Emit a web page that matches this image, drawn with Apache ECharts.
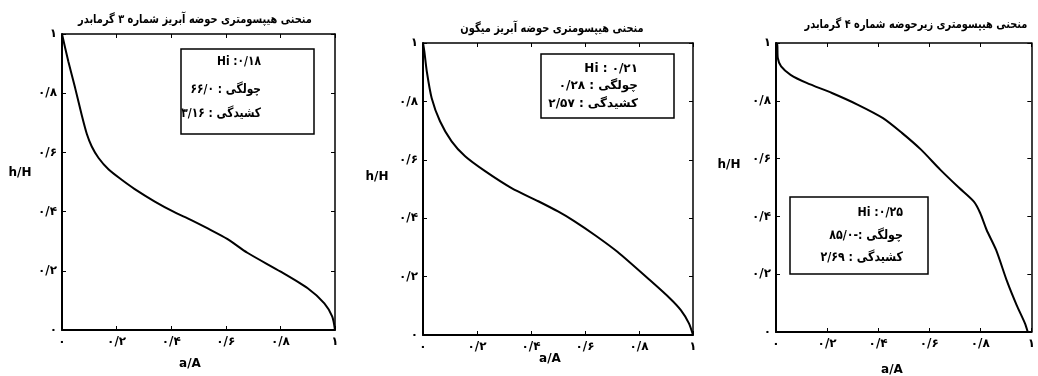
<!DOCTYPE html>
<html><head><meta charset="utf-8">
<script src="https://cdn.jsdelivr.net/npm/echarts@6/dist/echarts.min.js"></script>
<style>html,body{margin:0;padding:0;background:#fff}#c{width:1038px;height:376px}</style>
</head><body><div id="c"></div>
<script>
// ---- data ----
const tickLabels = ['۰', '۰/۲', '۰/۴', '۰/۶', '۰/۸', '۱'];
const titles = [
  'منحنی هیپسومتری حوضه آبریز شماره ۳ گرمابدر',
  'منحنی هیپسومتری حوضه آبریز میگون',
  'منحنی هیپسومتری زیرحوضه شماره ۴ گرمابدر'
];
const stats1 = ['Hi :۰/۱۸', '۶۶/۰ : چولگی', '۳/۱۶ : کشیدگی'];
const stats2 = ['Hi : ۰/۲۱', '۰/۲۸ : چولگی', '۲/۵۷ : کشیدگی'];
const stats3 = ['Hi :۰/۲۵', '۸۵/۰-: چولگی', '۲/۶۹ : کشیدگی'];
const yName = 'h/H';
const xName = 'a/A';

const p1X = [0, 0.023, 0.048, 0.072, 0.091, 0.109, 0.134, 0.170, 0.215, 0.265, 0.340, 0.410, 0.470, 0.532, 0.605, 0.679, 0.801, 0.900, 0.961, 0.990, 1];
const p1Y = [1, 0.908, 0.818, 0.727, 0.662, 0.620, 0.581, 0.543, 0.510, 0.477, 0.434, 0.399, 0.373, 0.344, 0.308, 0.261, 0.197, 0.141, 0.090, 0.045, 0];

const p2X = [0, 0.005, 0.014, 0.032, 0.063, 0.106, 0.156, 0.230, 0.328, 0.427, 0.500, 0.560, 0.640, 0.720, 0.840, 0.915, 0.955, 0.985, 1];
const p2Y = [1, 0.971, 0.903, 0.812, 0.732, 0.663, 0.612, 0.561, 0.503, 0.458, 0.423, 0.390, 0.340, 0.285, 0.188, 0.125, 0.085, 0.040, 0];

const p3X = [0, 0.005, 0.007, 0.020, 0.057, 0.120, 0.219, 0.319, 0.419, 0.493, 0.568, 0.643, 0.718, 0.775, 0.800, 0.825, 0.862, 0.905, 0.942, 0.975, 0.986];
const p3Y = [1, 0.994, 0.948, 0.919, 0.890, 0.862, 0.827, 0.787, 0.740, 0.689, 0.631, 0.562, 0.498, 0.451, 0.411, 0.353, 0.284, 0.175, 0.094, 0.030, 0];

// ---- chart ----
const zip = (xs, ys) => xs.map((x, i) => [x, ys[i]]);
const FONT = 'DejaVu Sans';
const grids = [
  { left: 62, top: 34, width: 273, height: 296 },
  { left: 423, top: 43, width: 270, height: 292 },
  { left: 776, top: 43, width: 267, height: 289 }
];
const fmt = v => tickLabels[Math.round(v / 0.2)];

const xAxes = [], yAxes = [];
grids.forEach((g, i) => {
  ['bottom', 'top'].forEach(pos => {
    xAxes.push({
      type: 'value', gridIndex: i, position: pos, min: 0, max: 1, interval: 0.2,
      axisLine: { show: true, onZero: false, lineStyle: { color: '#000', width: pos === 'bottom' ? 2 : 1.5 } },
      axisTick: { show: true, inside: true, length: 4, lineStyle: { color: '#000', width: 1 } },
      axisLabel: { show: pos === 'bottom', formatter: fmt, margin: 6, color: '#000', fontFamily: FONT, fontWeight: 'bold', fontSize: 12 },
      splitLine: { show: false }
    });
  });
  ['left', 'right'].forEach(pos => {
    yAxes.push({
      type: 'value', gridIndex: i, position: pos, min: 0, max: 1, interval: 0.2,
      axisLine: { show: true, onZero: false, lineStyle: { color: '#000', width: pos === 'left' ? 2 : 1.5 } },
      axisTick: { show: true, inside: true, length: 4, lineStyle: { color: '#000', width: 1 } },
      axisLabel: { show: pos === 'left', formatter: fmt, margin: 5, color: '#000', fontFamily: FONT, fontWeight: 'bold', fontSize: 12 },
      splitLine: { show: false }
    });
  });
});

const series = [zip(p1X, p1Y), zip(p2X, p2Y), zip(p3X, p3Y)].map((d, i) => ({
  type: 'line', xAxisIndex: i * 2, yAxisIndex: i * 2, data: d, showSymbol: false,
  smooth: 0.25, lineStyle: { color: '#000', width: 2 }, silent: true
}));

const txt = (x, y, s, size, align, sx) => ({
  type: 'text', x, y, scaleX: sx || 1, silent: true,
  style: { text: s, fill: '#000', font: 'bold ' + size + 'px "' + FONT + '"', align: align || 'center', verticalAlign: 'middle' }
});
const box = (x1, y1, x2, y2) => ({
  type: 'rect', silent: true, shape: { x: x1, y: y1, width: x2 - x1, height: y2 - y1 },
  style: { fill: '#fff', stroke: '#000', lineWidth: 1.5 }
});

const graphic = [
  txt(195, 20, titles[0], 12, 'center', 0.82), txt(552, 29, titles[1], 12, 'center', 0.82), txt(916, 25, titles[2], 12, 'center', 0.82),
  txt(20, 173, yName, 12), txt(377, 177, yName, 12), txt(729, 165, yName, 12),
  txt(190, 364, xName, 12), txt(550, 359, xName, 12), txt(892, 370, xName, 12),
  box(181, 49, 314, 134), box(541, 54, 674, 118), box(790, 197, 928, 274),
  txt(261, 62, stats1[0], 13, 'right', 0.82), txt(261, 90, stats1[1], 13, 'right', 0.82), txt(261, 114, stats1[2], 13, 'right', 0.82),
  txt(638, 69, stats2[0], 12, 'right'), txt(638, 86, stats2[1], 12, 'right'), txt(638, 104, stats2[2], 12, 'right'),
  txt(903, 213, stats3[0], 13, 'right', 0.85), txt(903, 236, stats3[1], 13, 'right', 0.85), txt(903, 258, stats3[2], 13, 'right', 0.85)
];

const chart = echarts.init(document.getElementById('c'), null, { renderer: 'canvas' });
chart.setOption({
  backgroundColor: '#fff',
  animation: false,
  grid: grids.map(g => Object.assign({ containLabel: false }, g)),
  xAxis: xAxes, yAxis: yAxes, series, graphic
});
</script></body></html>
